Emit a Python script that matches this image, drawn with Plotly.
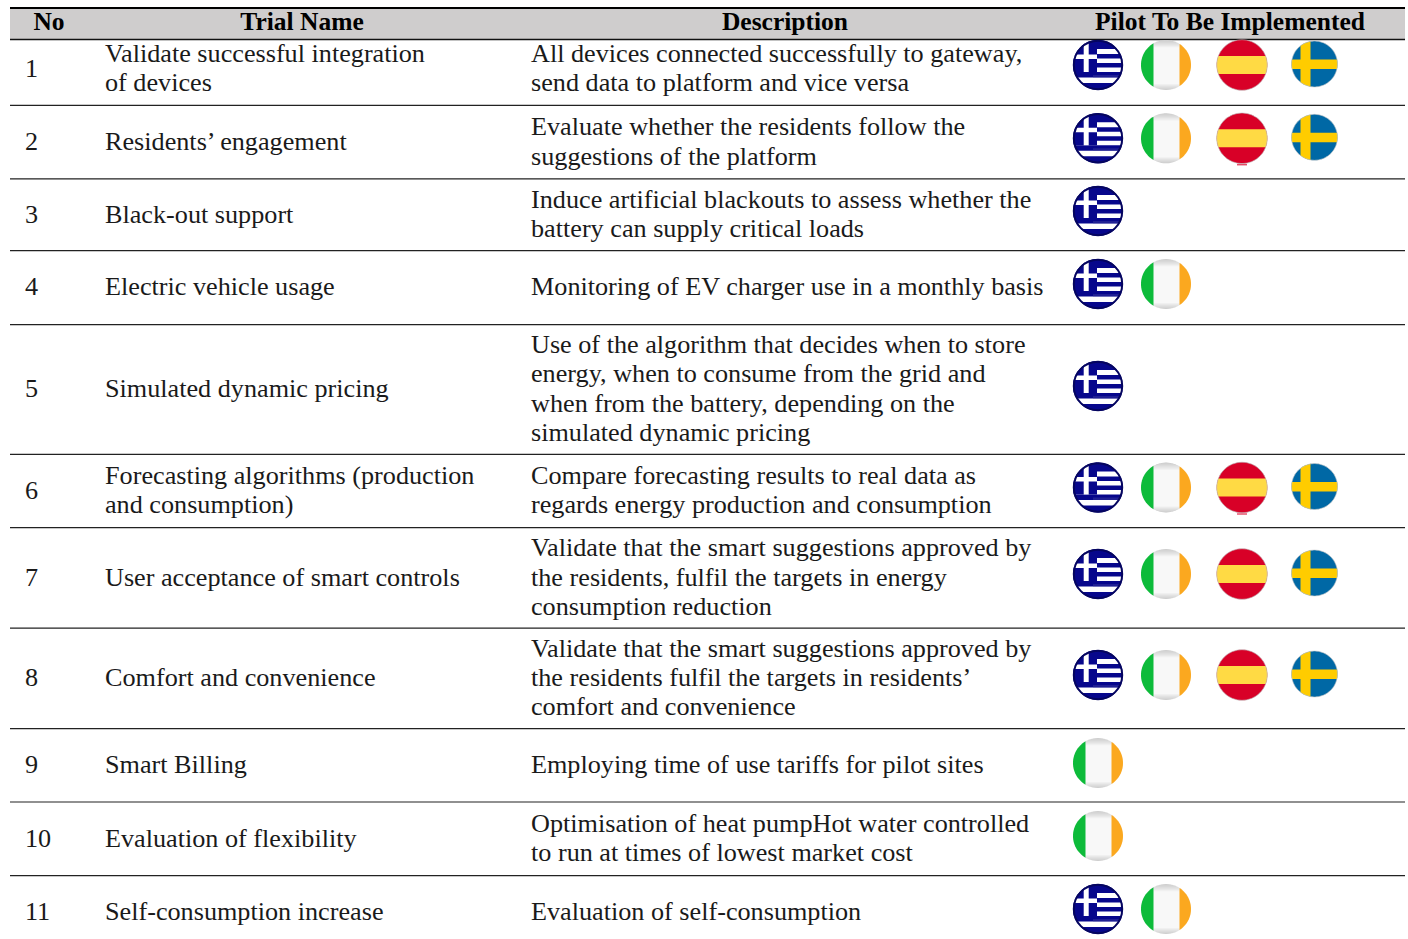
import numpy as np
import plotly.graph_objects as go

# ---------- table content ----------
headers = ["No", "Trial Name", "Description", "Pilot To Be Implemented"]
trial_no = ["1", "2", "3", "4", "5", "6", "7", "8", "9", "10", "11"]
trial_names = [
    ["Validate successful integration", "of devices"],
    ["Residents’ engagement"],
    ["Black-out support"],
    ["Electric vehicle usage"],
    ["Simulated dynamic pricing"],
    ["Forecasting algorithms (production", "and consumption)"],
    ["User acceptance of smart controls"],
    ["Comfort and convenience"],
    ["Smart Billing"],
    ["Evaluation of flexibility"],
    ["Self-consumption increase"],
]
descriptions = [
    ["All devices connected successfully to gateway,", "send data to platform and vice versa"],
    ["Evaluate whether the residents follow the", "suggestions of the platform"],
    ["Induce artificial blackouts to assess whether the", "battery can supply critical loads"],
    ["Monitoring of EV charger use in a monthly basis"],
    ["Use of the algorithm that decides when to store", "energy, when to consume from the grid and",
     "when from the battery, depending on the", "simulated dynamic pricing"],
    ["Compare forecasting results to real data as", "regards energy production and consumption"],
    ["Validate that the smart suggestions approved by", "the residents, fulfil the targets in energy",
     "consumption reduction"],
    ["Validate that the smart suggestions approved by", "the residents fulfil the targets in residents’",
     "comfort and convenience"],
    ["Employing time of use tariffs for pilot sites"],
    ["Optimisation of heat pumpHot water controlled", "to run at times of lowest market cost"],
    ["Evaluation of self-consumption"],
]
ALL = ["GR", "IE", "ES", "SE"]
pilots = [ALL, ALL, ["GR"], ["GR", "IE"], ["GR"], ALL, ALL, ALL, ["IE"], ["IE"], ["GR", "IE"]]

# ---------- layout geometry (pixels) ----------
W, H = 1408, 939
TABLE_L, TABLE_R = 10, 1405
row_rules = [105.4, 178.8, 250.6, 324.6, 454.3, 527.7, 628.2, 728.6, 802, 875.6]
row_mid = [70, 143.5, 216, 288.5, 390.5, 492, 579, 679.5, 766.5, 840, 913.5]
flag_mid = [65, 138.3, 211, 284, 386, 487.5, 574, 675, 763, 836, 909]
LINE_GAP = 29.2
X_NO, X_NAME, X_DESC = 25, 105, 531
HEAD_X = [49, 302, 785, 1230]
HEAD_Y = 24
SLOT_X = [1098, 1166, 1242, 1314.5]
TEXT_SIZE = 26.2
HEAD_SIZE = 25.5
FONT = "Liberation Serif"

fig = go.Figure()


def clip(poly, xmin=-1e3, xmax=1e3, ymin=-1e3, ymax=1e3):
    """Clip a polygon to an axis-aligned box (Sutherland-Hodgman)."""
    for axis, lim, sign in ((0, xmin, 1), (0, xmax, -1), (1, ymin, 1), (1, ymax, -1)):
        out = []
        for i, p in enumerate(poly):
            q = poly[(i + 1) % len(poly)]
            dp, dq = sign * (p[axis] - lim), sign * (q[axis] - lim)
            if dp >= 0:
                out.append(p)
            if dp * dq < 0:
                t = dp / (dp - dq)
                out.append((p[0] + t * (q[0] - p[0]), p[1] + t * (q[1] - p[1])))
        poly = out
        if not poly:
            return []
    return poly


def add_poly(poly, cx, cy, color, opacity=1.0):
    if len(poly) < 3:
        return
    d = "M" + " L".join(f"{cx + x:.2f},{cy + y:.2f}" for x, y in poly) + " Z"
    fig.add_shape(type="path", path=d, fillcolor=color, opacity=opacity,
                  line=dict(width=0), xref="x", yref="y", layer="above")


def disc(r):
    a = np.linspace(0, 2 * np.pi, 90, endpoint=False)
    return [(r * np.cos(t), r * np.sin(t)) for t in a]


def ring(cx, cy, r, color, width):
    fig.add_shape(type="circle", x0=cx - r, x1=cx + r, y0=cy - r, y1=cy + r,
                  line=dict(color=color, width=width), xref="x", yref="y", layer="above")


def flag_gr(cx, cy):
    c = disc(25)
    add_poly(c, cx, cy, "#07078C")
    for a, b in [(-16, -11), (-6.5, -2), (2.5, 7), (12.5, 18)]:
        add_poly(clip(c, ymin=a, ymax=b), cx, cy, "#FFFFFF")
    add_poly(clip(c, xmax=-1, ymax=7), cx, cy, "#07078C")
    add_poly(clip(c, xmin=-14.3, xmax=-9.3, ymax=7), cx, cy, "#FFFFFF")
    add_poly(clip(c, xmax=-1, ymin=-10.5, ymax=-6), cx, cy, "#FFFFFF")
    add_poly(clip(c, xmin=-5, ymin=10, ymax=12.5), cx, cy, "#3A3A9C", 0.5)
    ring(cx, cy, 24.2, "#05055F", 2)


def flag_ie(cx, cy):
    c = disc(25)
    add_poly(c, cx, cy, "#F8F8F8")
    add_poly(clip(c, xmax=-12.5), cx, cy, "#0DBB3A")
    add_poly(clip(c, xmin=13.5), cx, cy, "#FBA81F")
    for k in range(1, 7):
        add_poly(clip(c, xmin=-12.5, xmax=13.5, ymax=-25 + k * 1.2), cx, cy, "#888888", 0.07)
        add_poly(clip(c, xmin=-12.5, xmax=13.5, ymin=25 - k * 1.0), cx, cy, "#888888", 0.07)


def flag_es(cx, cy):
    c = disc(25.3)
    add_poly(c, cx, cy, "#D80027")
    add_poly(clip(c, ymin=-9, ymax=9), cx, cy, "#FFDA44")
    ring(cx, cy, 25.3, "#BBBBBB", 0.6)


def flag_se(cx, cy):
    c = disc(23)
    add_poly(c, cx, cy, "#0068A5")
    add_poly(clip(c, xmin=-14, xmax=-4), cx, cy, "#FFCC00")
    add_poly(clip(c, ymin=-4.5, ymax=5), cx, cy, "#FFCC00")
    ring(cx, cy, 23, "#C8C8C8", 0.6)


FLAGS = {"GR": flag_gr, "IE": flag_ie, "ES": flag_es, "SE": flag_se}
SE_DY = -1

# ---------- table frame ----------
fig.add_shape(type="rect", x0=TABLE_L, x1=TABLE_R, y0=8.5, y1=39,
              fillcolor="#CFCDCD", line=dict(width=0), layer="below")
for y, w, col in [(8, 2, "#000000"), (39.5, 1.6, "#111111")] + [(v, 1.2, "#222222") for v in row_rules]:
    fig.add_shape(type="line", x0=TABLE_L, x1=TABLE_R, y0=y, y1=y,
                  line=dict(color=col, width=w), layer="below")


# ---------- text ----------
def cell_points(cells, x):
    xs, ys, ts = [], [], []
    for mid, lines in zip(row_mid, cells):
        for i, t in enumerate(lines):
            xs.append(x)
            ys.append(mid + (i - (len(lines) - 1) / 2) * LINE_GAP)
            ts.append(t)
    return xs, ys, ts


for cells, x in [([[t] for t in trial_no], X_NO), (trial_names, X_NAME), (descriptions, X_DESC)]:
    xs, ys, ts = cell_points(cells, x)
    fig.add_trace(go.Scatter(x=xs, y=ys, text=ts, mode="text", textposition="middle right",
                             textfont=dict(family=FONT, size=TEXT_SIZE, color="#1A1A1A"),
                             hoverinfo="skip", cliponaxis=False))

fig.add_trace(go.Scatter(x=HEAD_X, y=[HEAD_Y] * 4, text=[f"<b>{h}</b>" for h in headers], mode="text",
                         textposition="middle center",
                         textfont=dict(family=FONT, size=HEAD_SIZE, color="#000000"),
                         hoverinfo="skip", cliponaxis=False))

# ---------- flags ----------
for cy, row in zip(flag_mid, pilots):
    for sx, code in zip(SLOT_X, row):
        FLAGS[code](sx, cy + (SE_DY if code == "SE" else 0))

# stray red mark under the Spanish flag in rows 2 and 6
for cy in (flag_mid[1], flag_mid[5]):
    fig.add_shape(type="line", x0=SLOT_X[2] - 5, x1=SLOT_X[2] + 5, y0=cy + 26.5, y1=cy + 26.5,
                  line=dict(color="#D80027", width=1))

fig.update_layout(
    width=W, height=H, margin=dict(l=0, r=0, t=0, b=0), showlegend=False,
    paper_bgcolor="#FFFFFF", plot_bgcolor="#FFFFFF",
    xaxis=dict(range=[0, W], visible=False, fixedrange=True),
    yaxis=dict(range=[H, 0], visible=False, fixedrange=True),
)
fig.write_html("out.html", config=dict(displayModeBar=False),
               post_script="document.body.style.margin='0';document.body.style.overflow='hidden';")
